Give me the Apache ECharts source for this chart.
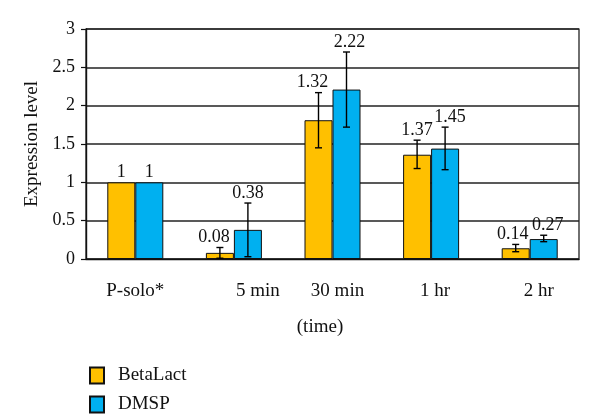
<!DOCTYPE html>
<html><head><meta charset="utf-8">
<script src="https://cdn.jsdelivr.net/npm/echarts@6/dist/echarts.min.js"></script>
<style>html,body{margin:0;padding:0;background:#fff}#c{width:600px;height:414px}</style>
</head><body><div id="c"></div>
<script>
const categories = ['P-solo*', '5 min', '30 min', '1 hr', '2 hr'];
const seriesNames = ['BetaLact', 'DMSP'];
const betaValues = [1, 0.08, 1.81, 1.36, 0.14];
const dmspValues = [1, 0.38, 2.21, 1.44, 0.26];
const betaErrLow = [null, 0.01, 1.45, 1.18, 0.095];
const betaErrHigh = [null, 0.15, 2.17, 1.55, 0.19];
const dmspErrLow = [null, 0.03, 1.72, 1.165, 0.226];
const dmspErrHigh = [null, 0.73, 2.70, 1.72, 0.31];
const betaLabels = ['1', '0.08', '1.32', '1.37', '0.14'];
const dmspLabels = ['1', '0.38', '2.22', '1.45', '0.27'];
const yTicks = [0, 0.5, 1, 1.5, 2, 2.5, 3];

const FONT = 'Liberation Serif';
const colors = ['#FFC000', '#00B0F0'];
const catShift = [0, 24, 5, 4, 9];
const betaLabelDx = [0, -6, -6, 0, -3];
const dmspLabelDx = [0, 0, 3, 5, 4];
const barW = 28;

function errSeries(name, values, lows, highs, labels, labelDx, offset) {
  const data = categories.map((c, i) => [i, lows[i] == null ? values[i] : lows[i], highs[i] == null ? values[i] : highs[i]]);
  return {
    type: 'custom', name: name + ' err', z: 5,
    data: data,
    encode: { x: 0, y: [1, 2] },
    renderItem: function (params, api) {
      const i = api.value(0), lo = api.value(1), hi = api.value(2);
      const b = api.coord([i, lo]), t = api.coord([i, hi]);
      const cx = b[0] + offset;
      const ch = [];
      if (hi > lo) {
        const st = { stroke: '#000', lineWidth: 1.4 };
        ch.push({ type: 'line', shape: { x1: cx, y1: b[1], x2: cx, y2: t[1] }, style: st });
        ch.push({ type: 'line', shape: { x1: cx - 3.5, y1: b[1], x2: cx + 3.5, y2: b[1] }, style: st });
        ch.push({ type: 'line', shape: { x1: cx - 3.5, y1: t[1], x2: cx + 3.5, y2: t[1] }, style: st });
      }
      ch.push({ type: 'text', x: cx + labelDx[params.dataIndex], y: t[1] - 1, style: { text: labels[params.dataIndex], fill: '#111', font: '18px ' + FONT, textAlign: 'center', textVerticalAlign: 'bottom' } });
      return { type: 'group', children: ch };
    }
  };
}

function legendFor(i, top) {
  return {
    orient: 'vertical', left: 84, top: top, itemWidth: 14, itemHeight: 16,
    icon: 'rect', data: [seriesNames[i]],
    textStyle: { fontFamily: FONT, fontSize: 19, color: '#111', padding: [0, 0, 0, 9] }
  };
}

const chart = echarts.init(document.getElementById('c'), null, { renderer: 'canvas' });
chart.setOption({
  animation: false,
  textStyle: { fontFamily: FONT },
  grid: { left: 86, right: 21, top: 29, bottom: 155, show: true, borderColor: '#111', borderWidth: 1.2 },
  legend: [legendFor(0, 361), legendFor(1, 390)],
  xAxis: {
    type: 'category',
    data: categories.map((c, i) => ({ value: c, textStyle: { padding: [0, 0, 0, catShift[i] * 2] } })),
    name: '(time)', nameLocation: 'middle', nameGap: 59,
    nameTextStyle: { fontFamily: FONT, fontSize: 19, color: '#111', padding: [0, 25, 0, 0] },
    axisLine: { lineStyle: { color: '#111', width: 1.4 } },
    axisTick: { length: 5, lineStyle: { color: '#111', width: 1.2 } },
    axisLabel: { margin: 23, fontFamily: FONT, fontSize: 19, color: '#111' }
  },
  yAxis: {
    type: 'value', min: yTicks[0], max: yTicks[yTicks.length - 1], interval: 0.5,
    name: 'Expression level', nameLocation: 'middle', nameGap: 43, nameRotate: 90,
    nameTextStyle: { fontFamily: FONT, fontSize: 19, color: '#111' },
    axisLine: { show: true, lineStyle: { color: '#111', width: 1.4 } },
    axisTick: { show: true, length: 5, lineStyle: { color: '#111', width: 1.2 } },
    axisLabel: { margin: 11, fontFamily: FONT, fontSize: 18, color: '#111' },
    splitLine: { lineStyle: { color: '#222', width: 1.5 } }
  },
  series: [
    { name: seriesNames[0], type: 'bar', data: betaValues, barWidth: barW, barGap: '0%',
      itemStyle: { color: colors[0], borderColor: '#111', borderWidth: 1 } },
    { name: seriesNames[1], type: 'bar', data: dmspValues, barWidth: barW, barGap: '0%',
      itemStyle: { color: colors[1], borderColor: '#111', borderWidth: 1 } },
    errSeries(seriesNames[0], betaValues, betaErrLow, betaErrHigh, betaLabels, betaLabelDx, -barW / 2),
    errSeries(seriesNames[1], dmspValues, dmspErrLow, dmspErrHigh, dmspLabels, dmspLabelDx, barW / 2)
  ]
});
</script></body></html>
